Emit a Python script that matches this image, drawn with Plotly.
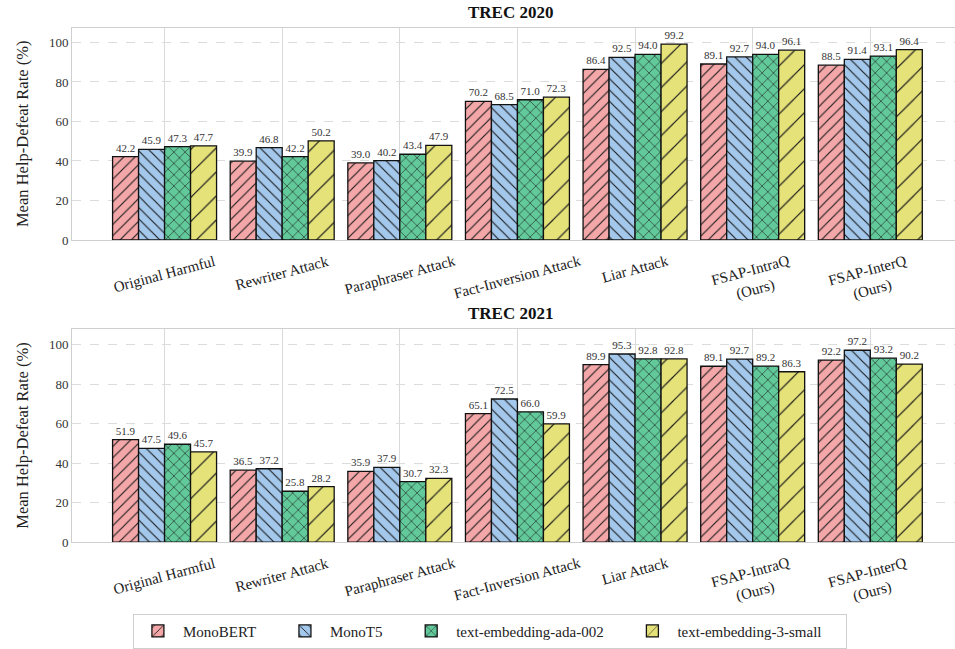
import plotly.graph_objects as go

categories = [
    "Original Harmful", "Rewriter Attack", "Paraphraser Attack",
    "Fact-Inversion Attack", "Liar Attack", "FSAP-IntraQ<br>(Ours)", "FSAP-InterQ<br>(Ours)",
]
models = ["MonoBERT", "MonoT5", "text-embedding-ada-002", "text-embedding-3-small"]

trec2020_monobert = [42.2, 39.9, 39.0, 70.2, 86.4, 89.1, 88.5]
trec2020_monot5 = [45.9, 46.8, 40.2, 68.5, 92.5, 92.7, 91.4]
trec2020_ada002 = [47.3, 42.2, 43.4, 71.0, 94.0, 94.0, 93.1]
trec2020_3small = [47.7, 50.2, 47.9, 72.3, 99.2, 96.1, 96.4]

trec2021_monobert = [51.9, 36.5, 35.9, 65.1, 89.9, 89.1, 92.2]
trec2021_monot5 = [47.5, 37.2, 37.9, 72.5, 95.3, 92.7, 97.2]
trec2021_ada002 = [49.6, 25.8, 30.7, 66.0, 92.8, 89.2, 93.2]
trec2021_3small = [45.7, 28.2, 32.3, 59.9, 92.8, 86.3, 90.2]

y_ticks = [0, 20, 40, 60, 80, 100]

colors = ["#f4a7a8", "#a3c8ec", "#62c99b", "#e6e27a"]
patterns = [
    dict(shape="/", size=8, solidity=0.14),
    dict(shape="\\", size=8, solidity=0.14),
    dict(shape="x", size=8, solidity=0.14),
    dict(shape="/", size=17, solidity=0.07),
]

panels = [
    ("TREC 2020", [trec2020_monobert, trec2020_monot5, trec2020_ada002, trec2020_3small]),
    ("TREC 2021", [trec2021_monobert, trec2021_monot5, trec2021_ada002, trec2021_3small]),
]

W, H = 955, 649
serif = "Liberation Serif, Times New Roman, serif"

# pixel layout of the two panels (top, bottom) in page coordinates
panel_px = [(28, 243), (333, 549)]
x_left_px = 72

# extra room after each legend label so entries spread like a column layout
legend_pad = "\u00a0" * 5

fig = go.Figure()
annotations = []

for p, (title, series) in enumerate(panels):
    xa = "x" if p == 0 else "x2"
    ya = "y" if p == 0 else "y2"
    for i, (name, vals) in enumerate(zip(models, series)):
        fig.add_trace(go.Bar(
            x=categories, y=vals, name=name + legend_pad,
            xaxis=xa, yaxis=ya,
            showlegend=(p == 0),
            legendgroup=name,
            marker=dict(
                color=colors[i],
                line=dict(color="#111111", width=1.3),
                pattern=dict(fgcolor="#1a1a1a", bgcolor=colors[i],
                             fillmode="replace", **patterns[i]),
            ),
            text=[f"{v:.1f}" for v in vals],
            textposition="outside",
            textfont=dict(family=serif, size=11, color="#333333"),
            constraintext="none",
            cliponaxis=False,
        ))

    top_px, bot_px = panel_px[p]
    dom = [1 - bot_px / H, 1 - top_px / H]
    span = (bot_px - top_px) / 2.0
    axis_common = dict(
        showline=True, linecolor="#cfcfcf", linewidth=1, mirror=True,
        zeroline=False, ticks="",
    )
    fig.update_layout(**{
        ("xaxis" if p == 0 else "xaxis2"): dict(
            domain=[x_left_px / W, 1.0],
            anchor=ya,
            type="category",
            range=[-0.787, 6.72],
            showgrid=True, gridcolor="#d9d9d9", gridwidth=1,
            showticklabels=False,
            **axis_common,
        ),
        ("yaxis" if p == 0 else "yaxis2"): dict(
            domain=dom,
            anchor=xa,
            range=[0, span],
            tickvals=y_ticks,
            showgrid=True, gridcolor="#dcdcdc", griddash="dash", gridwidth=1,
            tickfont=dict(family=serif, size=13, color="#333333"),
            title=dict(text="Mean Help-Defeat Rate (%)",
                       font=dict(family=serif, size=16.5, color="#222222"),
                       standoff=16),
            **axis_common,
        ),
    })

    # panel title
    annotations.append(dict(
        text=f"<b>{title}</b>", xref="paper", yref="paper",
        x=(x_left_px / W + 1.0) / 2 - 0.003, y=dom[1], yanchor="bottom",
        yshift=4, showarrow=False,
        font=dict(family=serif, size=17, color="#111111"),
    ))

    # rotated category labels
    for c in categories:
        annotations.append(dict(
            text=c, xref=xa, yref="paper", x=c, y=dom[0],
            yanchor="top", xanchor="center", yshift=-10,
            textangle=-15, showarrow=False,
            font=dict(family=serif, size=15, color="#222222"),
        ))

fig.update_layout(
    width=W, height=H,
    margin=dict(l=0, r=0, t=0, b=0),
    paper_bgcolor="white", plot_bgcolor="white",
    barmode="group", bargap=0.116, bargroupgap=0.0,
    annotations=annotations,
    legend=dict(
        orientation="h", x=0.513, xanchor="center", y=-0.012, yanchor="bottom",
        bordercolor="#cfcfcf", borderwidth=1,
        font=dict(family=serif, size=15, color="#222222"),
        itemwidth=40,
        tracegroupgap=0,
    ),
    font=dict(family=serif),
)

fig.write_html("out.html")
